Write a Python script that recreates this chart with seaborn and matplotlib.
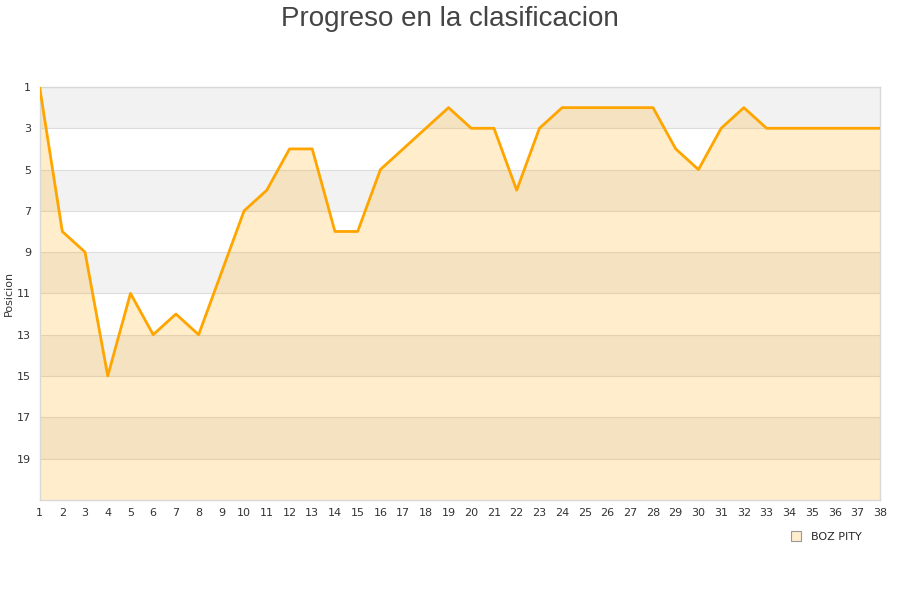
import pandas as pd
import numpy as np
import matplotlib.pyplot as plt
import seaborn as sns
from matplotlib.lines import Line2D

sns.set_theme(style="white")
plt.rcParams['font.family'] = ['DejaVu Sans']

# Data
jornadas = list(range(1, 39))
posiciones = [1, 8, 9, 15, 11, 13, 12, 13, 10, 7,
              6, 4, 4, 8, 8, 5, 4, 3, 2, 3,
              3, 6, 3, 2, 2, 2, 2, 2, 4, 5,
              3, 2, 3, 3, 3, 3, 3, 3]
equipo = "BOZ PITY"
y_ticks = [1, 3, 5, 7, 9, 11, 13, 15, 17, 19]

df = pd.DataFrame({"Jornada": jornadas, "Posicion": posiciones})

fig = plt.figure(figsize=(9, 6), dpi=100)
ax = fig.add_axes([0.044, 0.167, 0.934, 0.688])

# Alternating background bands
for start in range(1, 21, 4):
    ax.axhspan(start, start + 2, color="#f2f2f2", zorder=0, lw=0)
for t in y_ticks[1:]:
    ax.axhline(t, color="#dddddd", lw=0.8, zorder=1)

# Area under the line
ax.fill_between(df["Jornada"], df["Posicion"], 21, color="orange", alpha=0.2, lw=0, zorder=2)
sns.lineplot(data=df, x="Jornada", y="Posicion", ax=ax, color="#ffa500", lw=2.0, zorder=3)

ax.set_xlim(1, 38)
ax.set_ylim(21, 1)
ax.set_xticks(jornadas)
ax.set_yticks(y_ticks)
ax.tick_params(axis="both", labelsize=8, colors="#333333", length=0, pad=6)
ax.set_xlabel("")
ax.set_ylabel("Posicion", fontsize=8, color="#333333", labelpad=2)
for s in ax.spines.values():
    s.set_color("#d8d8d8")
    s.set_linewidth(1)

fig.suptitle("Progreso en la clasificacion", fontsize=20, color="#444444",
             family=["Liberation Sans", "DejaVu Sans"], y=0.99)

handle = Line2D([], [], marker="s", linestyle="none", markersize=7,
                markerfacecolor="#ffedcc", markeredgecolor="#999999", markeredgewidth=0.8)
fig.legend([handle], [equipo], loc="center", bbox_to_anchor=(0.915, 0.105),
           frameon=False, fontsize=8, handletextpad=0.4)

fig.savefig("out.png", dpi=100)
